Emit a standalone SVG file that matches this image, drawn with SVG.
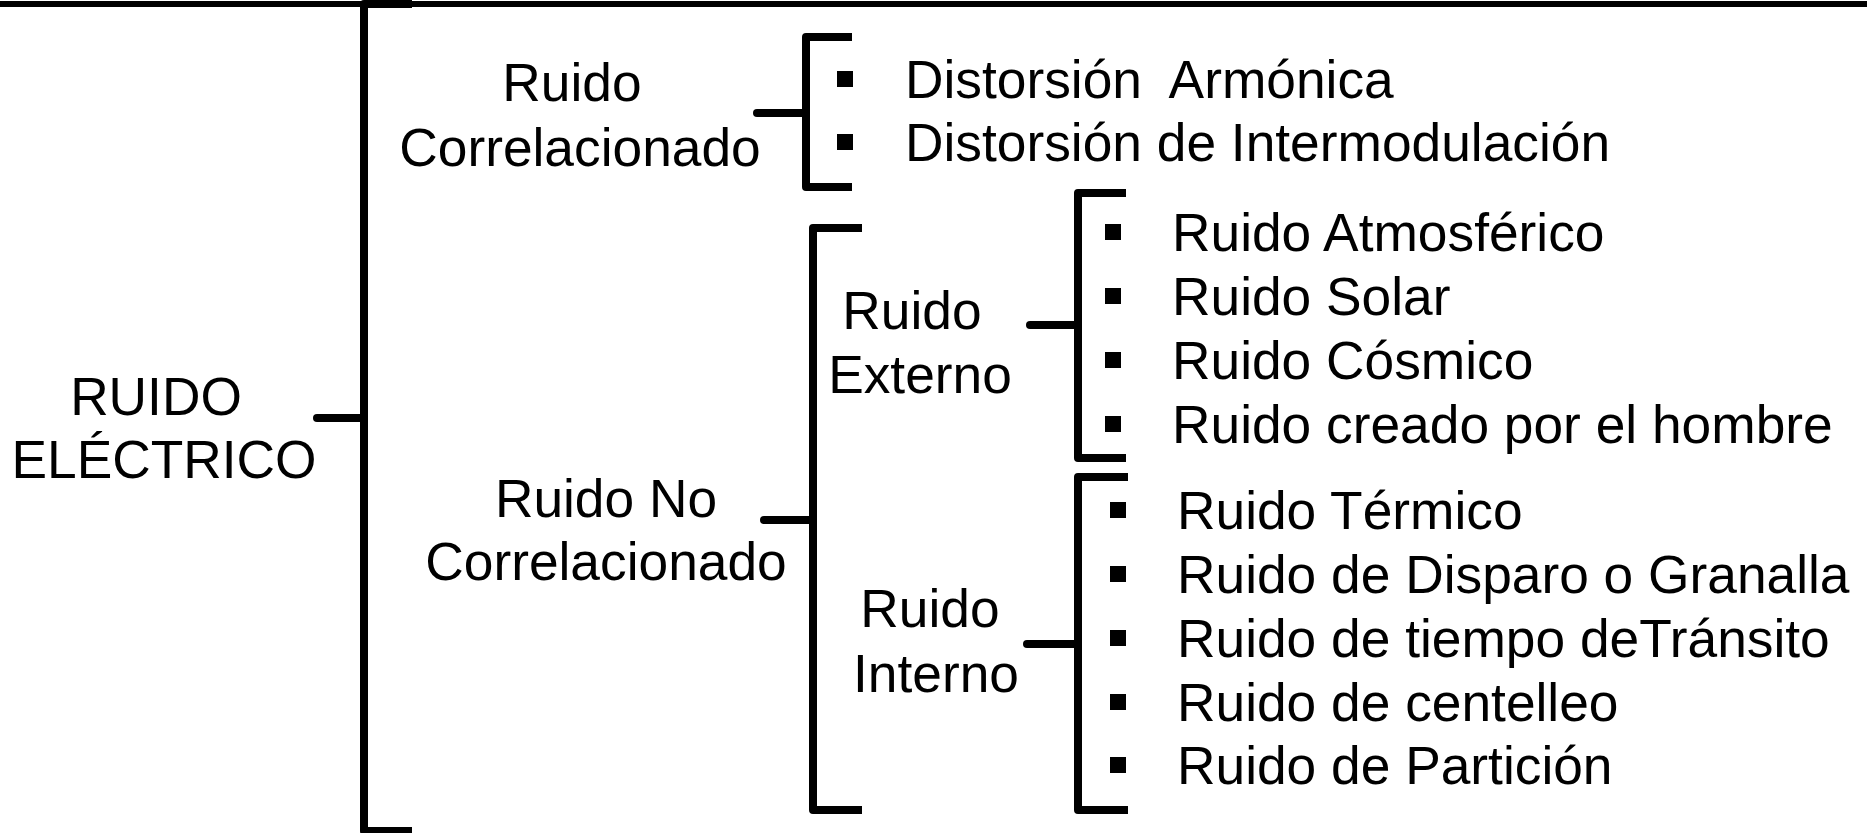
<svg xmlns="http://www.w3.org/2000/svg" width="1867" height="833" viewBox="0 0 1867 833">
<style>
text{font-family:"Liberation Sans",Arial,sans-serif;font-size:53.3px;fill:#000}
.m{text-anchor:middle}
.br{fill:none;stroke:#000;stroke-width:8;stroke-linejoin:round;stroke-linecap:butt}
.st{fill:none;stroke:#000;stroke-width:8;stroke-linecap:round}
.b{fill:#000}
</style>
<rect width="1867" height="833" fill="#fff"/>
<g id="connectors">
<line x1="0" y1="4" x2="1867" y2="4" stroke="#000" stroke-width="6"/>
<path class="br" d="M412 4 H364 V831 H412"/>
<path class="st" d="M317 418 H364"/>
<path class="br" d="M852 37 H806 V187 H852"/>
<path class="st" d="M757 113 H806"/>
<path class="br" d="M862 228 H813 V810 H862"/>
<path class="st" d="M764 520 H813"/>
<path class="br" d="M1126 193 H1078 V458 H1126"/>
<path class="st" d="M1030 325 H1078"/>
<path class="br" d="M1128 477 H1078 V810 H1128"/>
<path class="st" d="M1027 644 H1078"/>
</g>
<g id="ruido-electrico">
<text class="m" x="156" y="415">RUIDO</text>
<text class="m" x="164" y="478">ELÉCTRICO</text>
</g>
<g id="ruido-correlacionado">
<text class="m" x="572" y="101">Ruido</text>
<text class="m" x="580" y="166">Correlacionado</text>
</g>
<g id="distorsiones">
<rect class="b" x="837" y="71" width="16" height="16"/>
<rect class="b" x="837" y="134" width="16" height="16"/>
<text x="905" y="98" xml:space="preserve">Distorsión  Armónica</text>
<text x="905" y="161">Distorsión de Intermodulación</text>
</g>
<g id="ruido-no-correlacionado">
<text class="m" x="606" y="517">Ruido No</text>
<text class="m" x="606" y="580">Correlacionado</text>
</g>
<g id="ruido-externo">
<text class="m" x="912" y="329">Ruido</text>
<text class="m" x="920" y="393">Externo</text>
</g>
<g id="externo-items">
<rect class="b" x="1105" y="224" width="16" height="16"/>
<rect class="b" x="1105" y="288" width="16" height="16"/>
<rect class="b" x="1105" y="352" width="16" height="16"/>
<rect class="b" x="1105" y="416" width="16" height="16"/>
<text x="1172" y="251">Ruido Atmosférico</text>
<text x="1172" y="315">Ruido Solar</text>
<text x="1172" y="379">Ruido Cósmico</text>
<text x="1172" y="443">Ruido creado por el hombre</text>
</g>
<g id="ruido-interno">
<text class="m" x="930" y="627">Ruido</text>
<text class="m" x="936" y="692">Interno</text>
</g>
<g id="interno-items">
<rect class="b" x="1110" y="502" width="16" height="16"/>
<rect class="b" x="1110" y="566" width="16" height="16"/>
<rect class="b" x="1110" y="630" width="16" height="16"/>
<rect class="b" x="1110" y="694" width="16" height="16"/>
<rect class="b" x="1110" y="757" width="16" height="16"/>
<text x="1177" y="529">Ruido Térmico</text>
<text x="1177" y="593">Ruido de Disparo o Granalla</text>
<text x="1177" y="657">Ruido de tiempo deTránsito</text>
<text x="1177" y="721">Ruido de centelleo</text>
<text x="1177" y="784">Ruido de Partición</text>
</g>
</svg>
